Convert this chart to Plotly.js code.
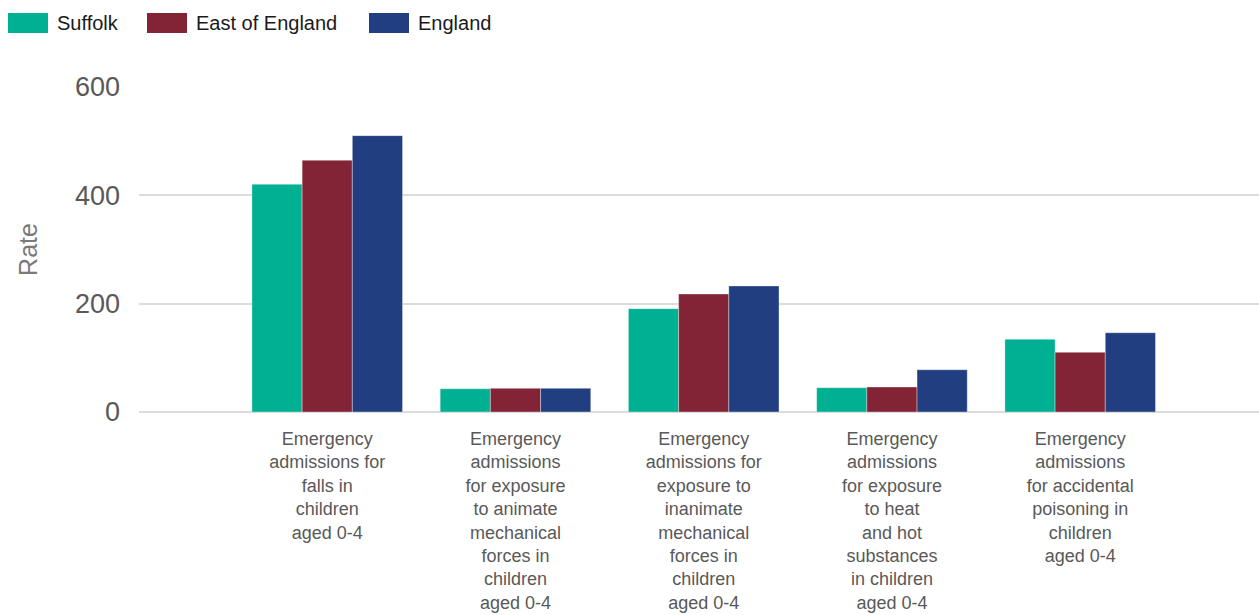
<!DOCTYPE html>
<html><head><meta charset="utf-8">
<script src="https://cdn.plot.ly/plotly-3.0.1.min.js"></script>
<style>html,body{margin:0;padding:0;background:#fff}#chart{width:1259px;height:615px}</style>
</head><body><div id="chart"></div>
<script>
const categories = [
  "Emergency<br>admissions for<br>falls in<br>children<br>aged 0-4",
  "Emergency<br>admissions<br>for exposure<br>to animate<br>mechanical<br>forces in<br>children<br>aged 0-4",
  "Emergency<br>admissions for<br>exposure to<br>inanimate<br>mechanical<br>forces in<br>children<br>aged 0-4",
  "Emergency<br>admissions<br>for exposure<br>to heat<br>and hot<br>substances<br>in children<br>aged 0-4",
  "Emergency<br>admissions<br>for accidental<br>poisoning in<br>children<br>aged 0-4"
];
const seriesNames = ["Suffolk", "East of England", "England"];
const suffolk = [420.5, 43.0, 190.8, 44.9, 134.2];
const eastOfEngland = [464.8, 43.7, 217.9, 46.2, 110.2];
const england = [510.2, 43.7, 232.7, 78.1, 146.4];
const colors = ["#00b092", "#822435", "#213f80"];
const yTicks = [0, 200, 400, 600];

const seriesValues = [suffolk, eastOfEngland, england];
const traces = seriesValues.map((vals, i) => ({
  type: "bar",
  name: seriesNames[i],
  x: categories,
  y: vals,
  marker: {color: colors[i], line: {color: "rgba(255,255,255,0.35)", width: 1}},
  hoverinfo: "x+y+name",
  showlegend: false
}));

// manual legend (wide swatches)
const legendX = [8, 147, 369];
const shapes = [];
const annotations = [];
seriesNames.forEach((n, i) => {
  shapes.push({type: "rect", xref: "paper", yref: "paper",
    x0: (legendX[i] - 139) / 1120, x1: (legendX[i] + 40 - 139) / 1120,
    y0: 1 + (87 - 33) / 325, y1: 1 + (87 - 13) / 325,
    fillcolor: colors[i], line: {width: 0}});
  annotations.push({xref: "paper", yref: "paper",
    x: (legendX[i] + 47 - 139) / 1120, y: 1 + (87 - 23) / 325,
    xanchor: "left", yanchor: "middle", showarrow: false,
    text: n, font: {size: 20, color: "#1a1a1a", family: "Liberation Sans, Arial, sans-serif"}});
});

const layout = {
  width: 1259, height: 615,
  margin: {l: 139, r: 0, t: 87, b: 203, pad: 0},
  paper_bgcolor: "#fff", plot_bgcolor: "#fff",
  font: {family: "Liberation Sans, Arial, sans-serif", color: "#595959"},
  barmode: "group", bargap: 0.2, bargroupgap: 0,
  showlegend: false,
  xaxis: {
    type: "category", range: [-1, 4.95],
    showgrid: false, zeroline: false, showline: false, ticks: "",
    tickfont: {size: 18, color: "#595959"},
    ticklabelstandoff: 14
  },
  yaxis: {
    range: [0, 600], tickvals: yTicks, ticktext: yTicks.map(String),
    showgrid: true, gridcolor: "#dcdcdc", gridwidth: 2,
    zeroline: true, zerolinecolor: "#dcdcdc", zerolinewidth: 2,
    showline: false, ticks: "",
    tickfont: {size: 27, color: "#595959"},
    ticklabelstandoff: 18,
    title: {text: "Rate", font: {size: 25, color: "#7a7a7a"}, standoff: 30}
  },
  shapes: shapes,
  annotations: annotations
};
Plotly.newPlot("chart", traces, layout, {displayModeBar: false, responsive: false});
</script></body></html>
